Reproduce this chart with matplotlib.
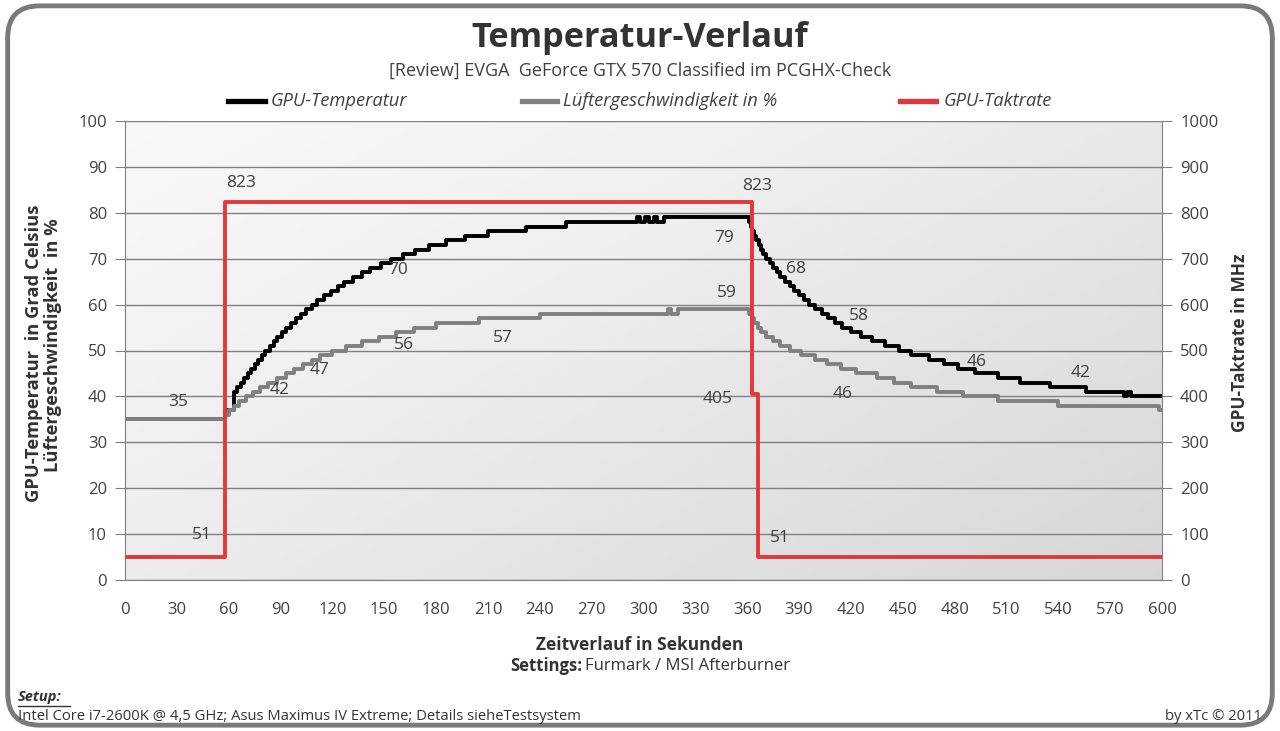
import numpy as np
import matplotlib
matplotlib.use("Agg")
import matplotlib.pyplot as plt
from matplotlib.lines import Line2D
from matplotlib.patches import FancyBboxPatch

plt.rcParams['font.family'] = ['Open Sans', 'DejaVu Sans']

# ---- data (breakpoints, steps-post) ----
temp_t = [0, 58, 63, 65, 67, 69, 71, 73, 75, 77, 79, 81, 84, 86, 88, 91, 93, 96, 99, 102, 105,
          108, 111, 115, 119, 123, 127, 132, 137, 142, 148, 154, 161, 168, 176, 186, 197, 210,
          232, 255, 296, 298, 301, 303, 306, 308, 312,
          361, 362, 363, 364, 365, 367, 368, 369, 371, 373, 375, 377, 379, 382, 385, 387, 390,
          393, 396, 399, 403, 407, 411, 415, 420, 426, 432, 440, 448, 455, 465, 474, 482, 492,
          505, 518, 535, 556, 578, 580, 582, 600]
temp_v = [35, 37, 41, 42, 43, 44, 45, 46, 47, 48, 49, 50, 51, 52, 53, 54, 55, 56, 57, 58, 59,
          60, 61, 62, 63, 64, 65, 66, 67, 68, 69, 70, 71, 72, 73, 74, 75, 76,
          77, 78, 79, 78, 79, 78, 79, 78, 79,
          78, 77, 76, 75, 74, 73, 72, 71, 70, 69, 68, 67, 66, 65, 64, 63, 62,
          61, 60, 59, 58, 57, 56, 55, 54, 53, 52, 51, 50, 49, 48, 47, 46, 45,
          44, 43, 42, 41, 40, 41, 40, 40]

fan_t = [0, 58, 60, 63, 66, 70, 74, 78, 83, 88, 93, 98, 103, 108, 113, 120, 128, 137, 147, 157,
         167, 180, 205, 240, 314, 316, 320,
         361, 363, 364, 366, 368, 371, 375, 379, 385, 391, 399, 406, 414, 423, 435, 445, 455,
         470, 485, 505, 540, 598, 600]
fan_v = [35, 36, 37, 38, 39, 40, 41, 42, 43, 44, 45, 46, 47, 48, 49, 50, 51, 52, 53, 54,
         55, 56, 57, 58, 59, 58, 59,
         58, 57, 56, 55, 54, 53, 52, 51, 50, 49, 48, 47, 46, 45, 44, 43, 42,
         41, 40, 39, 38, 37, 37]

clock_t = [0, 58, 363, 366, 600]
clock_v = [51, 823, 405, 51, 51]

x_ticks = list(range(0, 601, 30))

col_black = '#000000'
col_gray = '#808080'
col_red = '#e2383c'
col_text = '#404040'

fig = plt.figure(figsize=(12.8, 7.31), dpi=100)

# rounded frame
frame = FancyBboxPatch((0.006, 0.008), 0.988, 0.984, boxstyle="round,pad=0,rounding_size=0.025",
                       transform=fig.transFigure, facecolor='white', edgecolor='#7a7a7a',
                       linewidth=3.5, mutation_aspect=1280 / 731, zorder=-10)
fig.patches.append(frame)

ax = fig.add_axes([125 / 1280, 1 - 580 / 731, (1162 - 125) / 1280, (580 - 121) / 731])
ax.set_facecolor('none')

# gradient background
gx, gy = np.meshgrid(np.linspace(0, 1, 200), np.linspace(0, 1, 200))
grad = 0.55 * gx + 0.45 * gy
ax.imshow(grad, extent=[0, 1, 0, 1], transform=ax.transAxes, cmap='Greys', vmin=-0.25, vmax=4.5,
          aspect='auto', zorder=0, origin='upper')

ax.plot(temp_t, temp_v, drawstyle='steps-post', color=col_black, lw=2.8, zorder=3)
ax.plot(fan_t, fan_v, drawstyle='steps-post', color=col_gray, lw=2.8, zorder=4)

ax.set_xlim(0, 600)
ax.set_ylim(0, 100)
ax.set_yticks(range(0, 101, 10))
ax.set_xticks(x_ticks)
ax.grid(axis='y', color='#808080', lw=1, zorder=1)
ax.tick_params(axis='y', length=7, color='#808080', colors=col_text, labelsize=12, pad=6)
ax.tick_params(axis='x', length=0, colors=col_text, labelsize=12, pad=16)
for s in ['left', 'bottom']:
    ax.spines[s].set_color('#808080')
ax.spines['top'].set_visible(False)
ax.spines['right'].set_visible(False)

ax2 = ax.twinx()
ax2.plot(clock_t, clock_v, drawstyle='steps-post', color=col_red, lw=2.8, zorder=5)
ax2.set_ylim(0, 1000)
ax2.set_yticks(range(0, 1001, 100))
ax2.tick_params(axis='y', length=7, color='#808080', colors=col_text, labelsize=12, pad=6)
for s in ['left', 'top', 'bottom']:
    ax2.spines[s].set_visible(False)
ax2.spines['right'].set_color('#808080')

# data labels
lab = dict(fontsize=12.5, color=col_text, ha='center', va='center', zorder=6)
ax.text(30.7, 38.8, '35', **lab)
ax.text(89.7, 41.4, '42', **lab)
ax.text(112.8, 45.8, '47', **lab)
ax.text(158, 67.5, '70', **lab)
ax.text(161.5, 51.2, '56', **lab)
ax.text(218.7, 52.7, '57', **lab)
ax.text(346.6, 74.5, '79', **lab)
ax.text(348.4, 62.5, '59', **lab)
ax.text(388.3, 67.8, '68', **lab)
ax.text(424.8, 57.5, '58', **lab)
ax.text(415.5, 40.5, '46', **lab)
ax.text(492.5, 47.5, '46', **lab)
ax.text(553, 45.1, '42', **lab)
ax2.text(67, 865, '823', **lab)
ax2.text(365.7, 858, '823', **lab)
ax2.text(44.6, 98, '51', **lab)
ax2.text(342.6, 394, '405', **lab)
ax2.text(379, 92, '51', **lab)

# axis titles
fig.text(34 / 1280, 1 - 353 / 731, 'GPU-Temperatur  in Grad Celsius', rotation=90, ha='center',
         va='center', fontsize=13.2, fontweight='bold', color='#333333')
fig.text(53 / 1280, 1 - 345 / 731, 'Lüftergeschwindigkeit  in %', rotation=90, ha='center',
         va='center', fontsize=13.2, fontweight='bold', color='#333333')
fig.text(1240 / 1280, 1 - 343 / 731, 'GPU-Taktrate in MHz', rotation=90, ha='center',
         va='center', fontsize=12.5, fontweight='bold', color='#333333')
fig.text(0.5, 1 - 645 / 731, 'Zeitverlauf in Sekunden', ha='center', va='center',
         fontsize=12.5, fontweight='bold', color='#333333')
fig.text(582 / 1280, 1 - 666 / 731, 'Settings:', ha='right', va='center',
         fontsize=12, fontweight='bold', color='#333333')
fig.text(585 / 1280, 1 - 666 / 731, 'Furmark / MSI Afterburner', ha='left', va='center',
         fontsize=12, color='#333333')

# title
fig.text(0.5, 1 - 38 / 731, 'Temperatur-Verlauf', ha='center', va='center',
         fontsize=24.7, fontweight='bold', color='#333333')
fig.text(0.5, 1 - 71 / 731, '[Review] EVGA  GeForce GTX 570 Classified im PCGHX-Check',
         ha='center', va='center', fontsize=13, color=col_text)

# legend
leg_y = 1 - 101 / 731
for (x0, x1, xt, c, txt) in [(228, 265, 271, col_black, 'GPU-Temperatur'),
                              (522, 557, 563, col_gray, 'Lüftergeschwindigkeit in %'),
                              (900, 936, 944, col_red, 'GPU-Taktrate')]:
    fig.add_artist(Line2D([x0 / 1280, x1 / 1280], [leg_y, leg_y], color=c, lw=3.8,
                          transform=fig.transFigure))
    fig.text(xt / 1280, leg_y, txt, ha='left', va='center', fontsize=13.2, style='italic',
             color=col_text)

# footer
fig.text(18 / 1280, 1 - 697 / 731, 'Setup:', ha='left', va='center', fontsize=10.5,
         fontweight='bold', style='italic', color='#333333')
fig.add_artist(Line2D([18 / 1280, 70 / 1280], [1 - 706 / 731, 1 - 706 / 731], color='#333333',
                      lw=1, transform=fig.transFigure))
fig.text(18 / 1280, 1 - 717 / 731,
         'Intel Core i7-2600K @ 4,5 GHz; Asus Maximus IV Extreme; Details sieheTestsystem',
         ha='left', va='center', fontsize=10.6, color='#333333')
fig.text(1262 / 1280, 1 - 717 / 731, 'by xTc © 2011', ha='right', va='center', fontsize=10.6,
         color='#333333')

fig.savefig('out.png', dpi=100)
